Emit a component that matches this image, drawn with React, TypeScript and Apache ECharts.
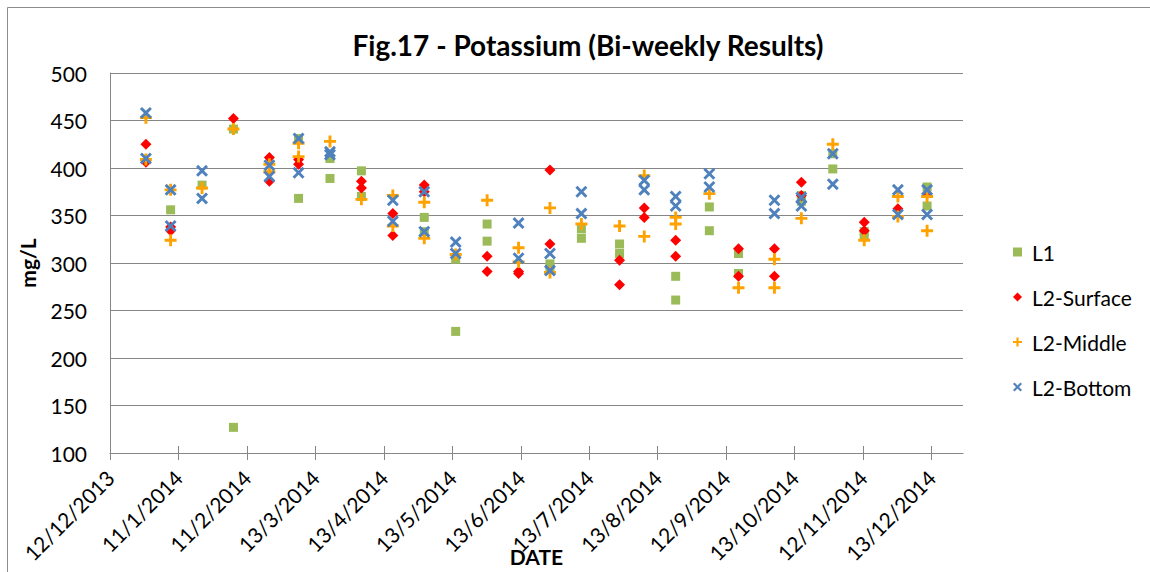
import React, { useEffect, useRef } from "react";
import * as echarts from "echarts";

// ---------- chart texts ----------
const TITLE = "Fig.17 - Potassium (Bi-weekly Results)";
const X_NAME = "DATE";
const Y_NAME = "mg/L";

// ---------- axes ----------
const AXIS_START = "2013-12-12"; // first tick of the date axis
const TICK_STEP_DAYS = 30.5;
const AXIS_END_DAYS = 380;
const xTickLabels = [
  "12/12/2013", "11/1/2014", "11/2/2014", "13/3/2014", "13/4/2014", "13/5/2014",
  "13/6/2014", "13/7/2014", "13/8/2014", "12/9/2014", "13/10/2014", "12/11/2014", "13/12/2014",
];
const Y_MIN = 100;
const Y_MAX = 500;
const Y_STEP = 50;

// ---------- data ----------
const seriesNames = ["L1", "L2-Surface", "L2-Middle", "L2-Bottom"];
const sampleDates = [
  "2013-12-28", "2014-01-08", "2014-01-22", "2014-02-05", "2014-02-21", "2014-03-06",
  "2014-03-20", "2014-04-03", "2014-04-17", "2014-05-01", "2014-05-15", "2014-05-29",
  "2014-06-12", "2014-06-26", "2014-07-10", "2014-07-27", "2014-08-07", "2014-08-21",
  "2014-09-05", "2014-09-18", "2014-10-04", "2014-10-16", "2014-10-30", "2014-11-13",
  "2014-11-28", "2014-12-11",
];
// values (mg/L) found at each sampling date, per series
const l1Values = [
  [], [356], [382], [441, 127], [], [431, 368],
  [410, 389], [397, 370], [], [348, 333], [304, 228], [341, 323],
  [], [299, 294], [336, 326], [320, 310], [], [286, 261],
  [359, 334], [310, 289], [], [371, 365], [415, 399], [333, 329],
  [], [380, 360],
];
const l2SurfaceValues = [
  [425, 406], [338, 334], [], [452], [411, 386], [409, 404],
  [], [386, 379], [352, 329], [382, 375], [], [307, 291],
  [291, 289], [398, 320], [], [303, 277], [358, 348], [324, 307],
  [], [315, 286], [315, 286], [385, 371], [], [343, 334],
  [357], [373],
];
const l2MiddleValues = [
  [453, 409], [377, 324], [379], [441], [404, 396], [426, 412],
  [428], [367], [371, 339], [364, 326], [309], [366],
  [316, 301], [358, 290], [341], [339], [392, 328], [348, 341],
  [373], [274], [304, 274], [347], [425], [324],
  [370, 349], [370, 334],
];
const l2BottomValues = [
  [458, 410], [377, 339], [397, 368], [], [403, 391], [431, 395],
  [417, 414], [], [366, 344], [375, 333], [322, 310], [],
  [342, 305], [310, 292], [375, 352], [], [387, 377], [370, 360],
  [394, 380], [], [366, 352], [369, 360], [415, 383], [],
  [377, 351], [377, 351],
];

// ---------- styles ----------
const COLORS = ["#9BBB59", "#FF0000", "#FFA200", "#4F81BD"];
const PLUS = "path://M3.8,0H6.2V3.8H10V6.2H6.2V10H3.8V6.2H0V3.8H3.8Z";
const CROSS =
  "path://M0,1.7L1.7,0L5,3.3L8.3,0L10,1.7L6.7,5L10,8.3L8.3,10L5,6.7L1.7,10L0,8.3L3.3,5Z";
const FONT = "Lato";
const AXIS_GRAY = "#868686";

const dayOf = (iso: string) => {
  const [y, m, d] = iso.split("-").map(Number);
  const [y0, m0, d0] = AXIS_START.split("-").map(Number);
  return (Date.UTC(y, m - 1, d) - Date.UTC(y0, m0 - 1, d0)) / 86400000;
};

const toPoints = (values: number[][]) =>
  sampleDates.flatMap((d, i) => values[i].map((v) => [dayOf(d), v]));

export default function App() {
  const ref = useRef<HTMLDivElement>(null);

  useEffect(() => {
    if (!ref.current) return;
    const chart = echarts.init(ref.current, undefined, { renderer: "svg" });
    const tickPositions = xTickLabels.map((_, i) => i * TICK_STEP_DAYS);
    const tickLabel = (v: number) => {
      const idx = Math.round(v / TICK_STEP_DAYS);
      return Math.abs(idx * TICK_STEP_DAYS - v) < 0.01 ? xTickLabels[idx] ?? "" : "";
    };

    const seriesDefs = [
      { values: l1Values, symbol: "rect", size: 9 },
      { values: l2SurfaceValues, symbol: "diamond", size: 11 },
      { values: l2MiddleValues, symbol: PLUS, size: 12 },
      { values: l2BottomValues, symbol: CROSS, size: 12 },
    ];

    chart.setOption({
      animation: false,
      backgroundColor: "#ffffff",
      textStyle: { fontFamily: FONT },
      title: {
        text: TITLE,
        left: 583,
        top: 25,
        textAlign: "center",
        textStyle: { fontFamily: FONT, fontWeight: "bold", fontSize: 28, lineHeight: 30, color: "#000" },
      },
      graphic: [
        {
          type: "rect",
          silent: true,
          z: -10,
          shape: { x: 7.5, y: 7.5, width: 1300, height: 700 },
          style: { fill: "none", stroke: "#8c8c8c", lineWidth: 1 },
        },
      ],
      legend: {
        orient: "vertical",
        left: 1008,
        top: 235,
        itemWidth: 9,
        itemHeight: 9,
        itemGap: 21,
        data: seriesNames,
        selectedMode: false,
        textStyle: { fontFamily: FONT, fontSize: 21, lineHeight: 24, color: "#000", padding: [0, 0, 0, 5] },
      },
      grid: { left: 110, top: 73, width: 853, height: 380, outerBoundsMode: "none", containLabel: false },
      xAxis: [
        {
          type: "value",
          min: 0,
          max: AXIS_END_DAYS,
          position: "bottom",
          name: X_NAME,
          nameLocation: "middle",
          nameGap: 93,
          nameMoveOverlap: false,
          nameTextStyle: { fontFamily: FONT, fontWeight: "bold", fontSize: 21, color: "#000" },
          axisLine: { show: true, lineStyle: { color: AXIS_GRAY, width: 1 } },
          axisTick: { show: true, length: 7, customValues: tickPositions, lineStyle: { color: AXIS_GRAY } },
          axisLabel: {
            customValues: tickPositions,
            formatter: tickLabel,
            rotate: 45,
            margin: 21,
            padding: [21, 0, 0, 0],
            fontFamily: FONT,
            fontSize: 21,
            color: "#000",
          },
          splitLine: { show: false },
        },
        {
          type: "value",
          min: 0,
          max: AXIS_END_DAYS,
          position: "bottom",
          axisLine: { show: false },
          axisTick: { show: true, inside: true, length: 7, customValues: tickPositions, lineStyle: { color: AXIS_GRAY } },
          axisLabel: { show: false },
          splitLine: { show: false },
        },
      ],
      yAxis: {
        type: "value",
        min: Y_MIN,
        max: Y_MAX,
        interval: Y_STEP,
        name: Y_NAME,
        nameLocation: "middle",
        nameGap: 72,
        nameRotate: 90,
        nameMoveOverlap: false,
        nameTextStyle: { fontFamily: FONT, fontWeight: "bold", fontSize: 21, color: "#000" },
        axisLine: { show: true, lineStyle: { color: AXIS_GRAY, width: 1 } },
        axisTick: { show: false },
        axisLabel: { margin: 23, fontFamily: FONT, fontSize: 21, color: "#000" },
        splitLine: { show: true, lineStyle: { color: AXIS_GRAY, width: 1 } },
      },
      series: seriesDefs.map((s, i) => ({
        name: seriesNames[i],
        type: "scatter",
        xAxisIndex: 0,
        symbol: s.symbol,
        symbolSize: s.size,
        itemStyle: { color: COLORS[i], opacity: 1 },
        emphasis: { disabled: true },
        data: toPoints(s.values),
      })),
    });

    return () => chart.dispose();
  }, []);

  return (
    <div
      ref={ref}
      style={{ position: "absolute", left: 0, top: 0, width: 1150, height: 572 }}
    />
  );
}
